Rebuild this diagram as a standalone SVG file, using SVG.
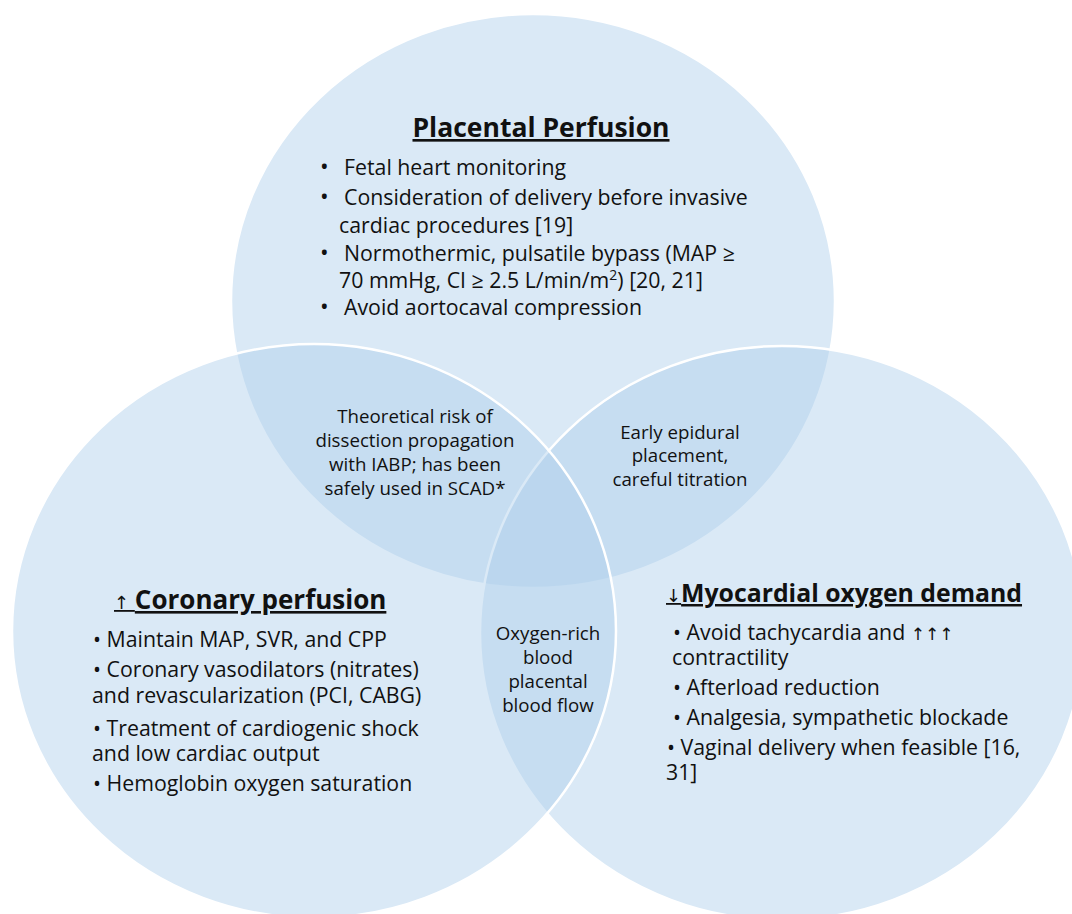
<svg xmlns="http://www.w3.org/2000/svg" width="1072" height="914" viewBox="0 0 1072 914">
<style>
.c{fill:#AFCFEB;fill-opacity:0.46;stroke:#FFFFFF;stroke-width:2.5}
.t{font-family:"Open Sans","Liberation Sans",sans-serif;fill:#111111}
.b{font-size:21.3px}
.s{font-size:18.7px;text-anchor:middle}
.h{font-weight:bold;text-decoration:underline}
.ar{font-family:"DejaVu Sans",sans-serif;font-weight:normal;font-size:18px}
.ar2{font-family:"DejaVu Sans",sans-serif;font-size:17px}
.dot{font-size:23px}
</style>
<rect width="1072" height="914" fill="#FFFFFF"/>
<g id="placental">
<ellipse class="c" cx="533" cy="301" rx="302" ry="287"/>
<text class="t h" x="541" y="137" text-anchor="middle" font-size="26.5">Placental Perfusion</text>
<g class="t b">
<text class="dot" x="320" y="175">•</text><text x="344" y="175">Fetal heart monitoring</text>
<text class="dot" x="320" y="205">•</text><text x="344" y="205">Consideration of delivery before invasive</text>
<text x="339" y="233">cardiac procedures [19]</text>
<text class="dot" x="320" y="261">•</text><text x="344" y="261">Normothermic, pulsatile bypass (MAP ≥</text>
<text x="339" y="288">70 mmHg, CI ≥ 2.5 L/min/m<tspan dy="-8" font-size="14">2</tspan><tspan dy="8">) [20, 21]</tspan></text>
<text class="dot" x="320" y="315">•</text><text x="344" y="315">Avoid aortocaval compression</text>
</g>
</g>
<g id="myocardial">
<ellipse class="c" cx="782" cy="633" rx="302" ry="287"/>
<text class="t h" x="666" y="602" font-size="24.8"><tspan class="ar" text-decoration="none">↓</tspan>Myocardial oxygen demand</text>
<g class="t b">
<text x="673" y="640">• Avoid tachycardia and <tspan class="ar2">↑↑↑</tspan></text>
<text x="672" y="665">contractility</text>
<text x="673" y="695">• Afterload reduction</text>
<text x="673" y="725">• Analgesia, sympathetic blockade</text>
<text x="667" y="755">• Vaginal delivery when feasible [16,</text>
<text x="666" y="780">31]</text>
</g>
</g>
<g id="coronary">
<ellipse class="c" cx="314" cy="631" rx="302" ry="287"/>
<text class="t h" x="114" y="609" font-size="26"><tspan class="ar" text-decoration="none">↑ </tspan>Coronary perfusion</text>
<g class="t b">
<text x="93" y="647">• Maintain MAP, SVR, and CPP</text>
<text x="93" y="677">• Coronary vasodilators (nitrates)</text>
<text x="92" y="703">and revascularization (PCI, CABG)</text>
<text x="93" y="736">• Treatment of cardiogenic shock</text>
<text x="92" y="761">and low cardiac output</text>
<text x="93" y="791">• Hemoglobin oxygen saturation</text>
</g>
</g>
<g id="overlap-placental-coronary" class="t s">
<text x="415" y="423">Theoretical risk of</text>
<text x="415" y="447">dissection propagation</text>
<text x="415" y="471">with IABP; has been</text>
<text x="415" y="495">safely used in SCAD*</text>
</g>
<g id="overlap-placental-myocardial" class="t s">
<text x="680" y="439">Early epidural</text>
<text x="680" y="462">placement,</text>
<text x="680" y="486">careful titration</text>
</g>
<g id="overlap-coronary-myocardial" class="t s">
<text x="548" y="640">Oxygen-rich</text>
<text x="548" y="664">blood</text>
<text x="548" y="688">placental</text>
<text x="548" y="712">blood flow</text>
</g>
<g id="connectors"/>
</svg>
